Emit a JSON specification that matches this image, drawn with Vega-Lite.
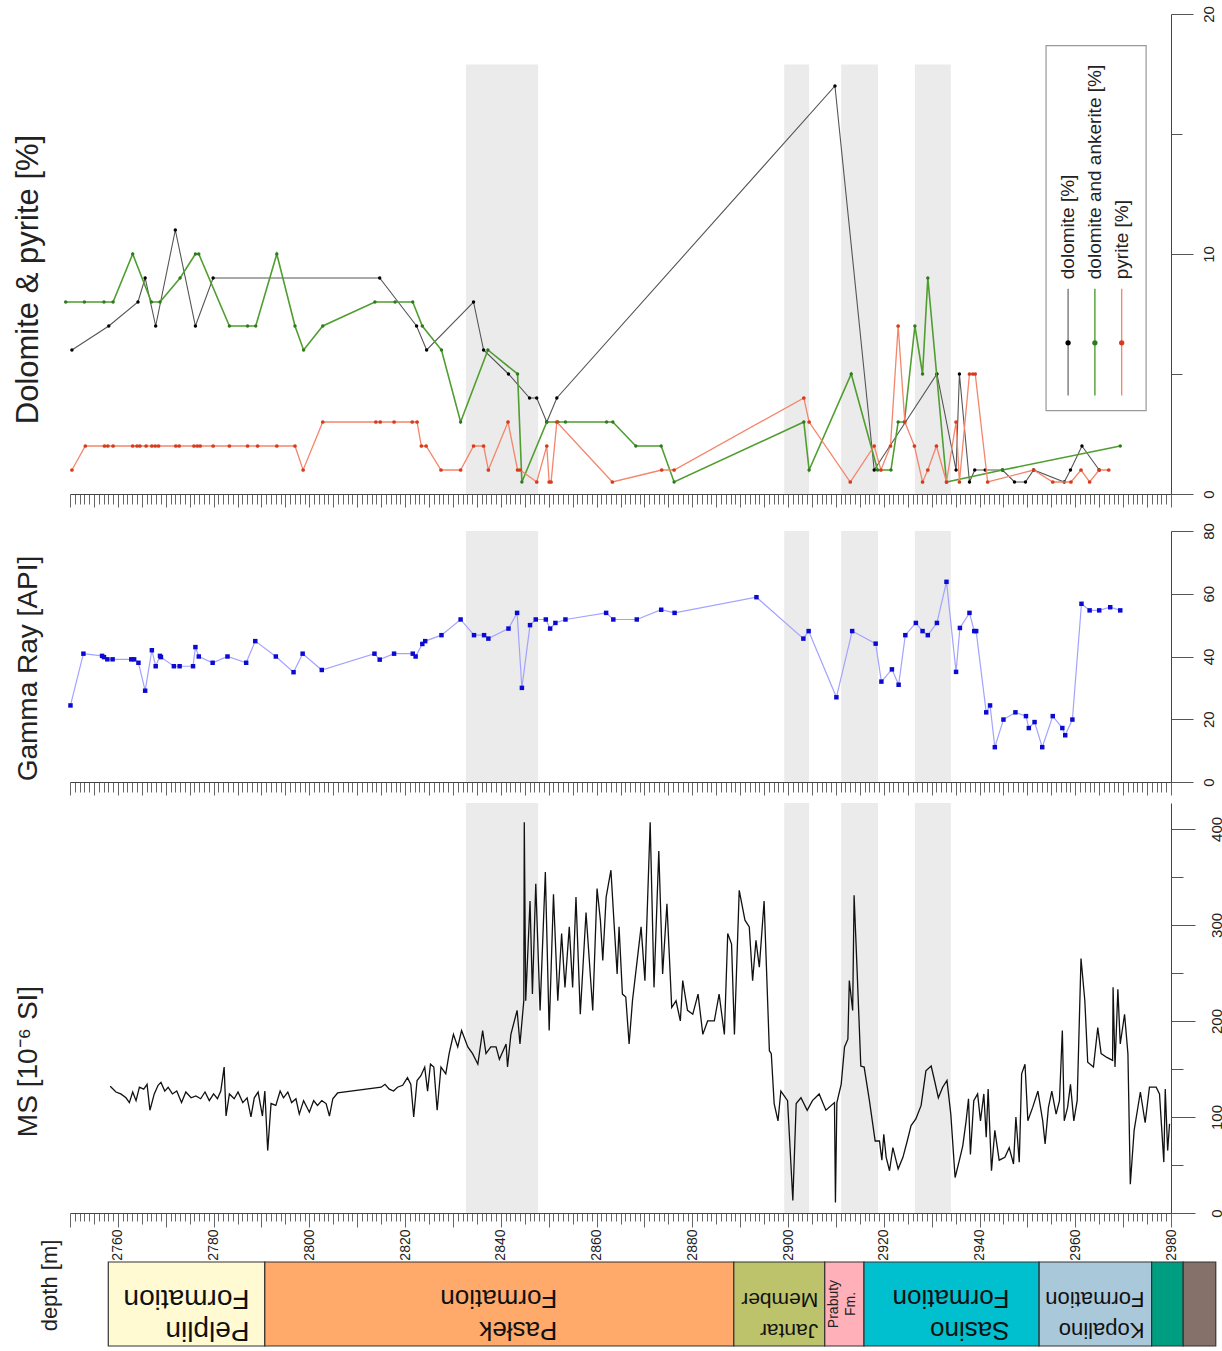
{
  "$schema": "https://vega.github.io/schema/vega-lite/v6.json",
  "background": "white",
  "padding": {"left": 12, "top": 5, "right": 0, "bottom": 4},
  "config": {
    "font": "Liberation Sans",
    "view": {"stroke": null},
    "axis": {"grid": false, "domainColor": "#444", "tickColor": "#555", "labelColor": "#222", "titleColor": "#222", "titleFontWeight": "normal", "labelFont": "Liberation Sans", "titleFont": "Liberation Sans"}
  },
  "datasets": {
    "bands": [
      {"from": 2832.7, "to": 2847.8},
      {"from": 2899.2, "to": 2904.4},
      {"from": 2911.1, "to": 2918.8},
      {"from": 2926.5, "to": 2934.0}
    ],
    "dol": [
      {"d": 2750.4, "v": 6}, {"d": 2758.1, "v": 7}, {"d": 2764.2, "v": 8}, {"d": 2765.7, "v": 9}, {"d": 2767.9, "v": 7},
      {"d": 2772.0, "v": 11}, {"d": 2776.2, "v": 7}, {"d": 2779.9, "v": 9}, {"d": 2814.7, "v": 9}, {"d": 2822.4, "v": 7},
      {"d": 2824.5, "v": 6}, {"d": 2834.3, "v": 8}, {"d": 2836.4, "v": 6}, {"d": 2841.6, "v": 5}, {"d": 2846.0, "v": 4},
      {"d": 2847.5, "v": 4}, {"d": 2849.6, "v": 3}, {"d": 2851.7, "v": 4}, {"d": 2909.8, "v": 17}, {"d": 2918.0, "v": 1},
      {"d": 2931.1, "v": 5}, {"d": 2935.1, "v": 1}, {"d": 2935.8, "v": 5}, {"d": 2937.9, "v": 0.5}, {"d": 2939.0, "v": 1},
      {"d": 2941.2, "v": 1}, {"d": 2944.8, "v": 1}, {"d": 2947.3, "v": 0.5}, {"d": 2949.6, "v": 0.5}, {"d": 2951.3, "v": 1},
      {"d": 2957.7, "v": 0.5}, {"d": 2959.0, "v": 1}, {"d": 2961.4, "v": 2}, {"d": 2965.0, "v": 1}
    ],
    "dolank": [
      {"d": 2749.1, "v": 8}, {"d": 2753.0, "v": 8}, {"d": 2757.1, "v": 8}, {"d": 2759.0, "v": 8}, {"d": 2763.1, "v": 10},
      {"d": 2767.0, "v": 8}, {"d": 2768.8, "v": 8}, {"d": 2773.0, "v": 9}, {"d": 2776.2, "v": 10}, {"d": 2776.9, "v": 10},
      {"d": 2783.3, "v": 7}, {"d": 2787.1, "v": 7}, {"d": 2788.8, "v": 7}, {"d": 2793.2, "v": 10}, {"d": 2797.0, "v": 7},
      {"d": 2798.8, "v": 6}, {"d": 2802.8, "v": 7}, {"d": 2813.7, "v": 8}, {"d": 2817.9, "v": 8}, {"d": 2821.6, "v": 8},
      {"d": 2823.6, "v": 7}, {"d": 2827.6, "v": 6}, {"d": 2831.6, "v": 3}, {"d": 2837.3, "v": 6}, {"d": 2843.5, "v": 5},
      {"d": 2844.4, "v": 0.5}, {"d": 2849.6, "v": 3}, {"d": 2851.9, "v": 3}, {"d": 2853.5, "v": 3}, {"d": 2862.1, "v": 3},
      {"d": 2863.4, "v": 3}, {"d": 2868.2, "v": 2}, {"d": 2873.5, "v": 2}, {"d": 2876.2, "v": 0.5}, {"d": 2903.3, "v": 3},
      {"d": 2904.4, "v": 1}, {"d": 2913.2, "v": 5}, {"d": 2918.7, "v": 1}, {"d": 2921.5, "v": 1}, {"d": 2923.0, "v": 3},
      {"d": 2924.3, "v": 3}, {"d": 2926.5, "v": 7}, {"d": 2928.1, "v": 5}, {"d": 2929.2, "v": 9}, {"d": 2933.1, "v": 0.5},
      {"d": 2944.8, "v": 1}, {"d": 2969.4, "v": 2}
    ],
    "pyr": [
      {"d": 2750.4, "v": 1}, {"d": 2753.2, "v": 2}, {"d": 2757.2, "v": 2}, {"d": 2757.9, "v": 2}, {"d": 2759.0, "v": 2},
      {"d": 2763.1, "v": 2}, {"d": 2764.0, "v": 2}, {"d": 2764.6, "v": 2}, {"d": 2765.9, "v": 2}, {"d": 2767.1, "v": 2},
      {"d": 2767.8, "v": 2}, {"d": 2768.5, "v": 2}, {"d": 2772.1, "v": 2}, {"d": 2772.8, "v": 2}, {"d": 2775.9, "v": 2},
      {"d": 2776.6, "v": 2}, {"d": 2777.2, "v": 2}, {"d": 2779.9, "v": 2}, {"d": 2783.3, "v": 2}, {"d": 2787.1, "v": 2},
      {"d": 2789.2, "v": 2}, {"d": 2793.2, "v": 2}, {"d": 2797.0, "v": 2}, {"d": 2798.7, "v": 1}, {"d": 2802.8, "v": 3},
      {"d": 2813.9, "v": 3}, {"d": 2814.8, "v": 3}, {"d": 2817.7, "v": 3}, {"d": 2821.5, "v": 3}, {"d": 2822.5, "v": 3},
      {"d": 2823.4, "v": 2}, {"d": 2824.4, "v": 2}, {"d": 2827.5, "v": 1}, {"d": 2831.6, "v": 1}, {"d": 2834.3, "v": 2},
      {"d": 2836.4, "v": 2}, {"d": 2837.4, "v": 1}, {"d": 2841.5, "v": 3}, {"d": 2843.5, "v": 1}, {"d": 2844.0, "v": 1},
      {"d": 2847.5, "v": 0.5}, {"d": 2849.6, "v": 2}, {"d": 2850.1, "v": 0.5}, {"d": 2850.5, "v": 0.5}, {"d": 2851.7, "v": 3},
      {"d": 2863.3, "v": 0.5}, {"d": 2873.6, "v": 1}, {"d": 2876.2, "v": 1}, {"d": 2903.3, "v": 4}, {"d": 2904.4, "v": 3},
      {"d": 2913.0, "v": 0.5}, {"d": 2918.0, "v": 2}, {"d": 2919.4, "v": 1}, {"d": 2921.4, "v": 2}, {"d": 2923.0, "v": 7},
      {"d": 2924.4, "v": 3}, {"d": 2926.4, "v": 2}, {"d": 2928.1, "v": 0.5}, {"d": 2929.2, "v": 1}, {"d": 2931.0, "v": 2},
      {"d": 2933.1, "v": 0.5}, {"d": 2935.1, "v": 3}, {"d": 2935.8, "v": 0.5}, {"d": 2937.9, "v": 5}, {"d": 2938.6, "v": 5},
      {"d": 2939.1, "v": 5}, {"d": 2941.7, "v": 0.5}, {"d": 2951.3, "v": 1}, {"d": 2955.3, "v": 0.5}, {"d": 2959.1, "v": 0.5},
      {"d": 2961.2, "v": 1}, {"d": 2963.0, "v": 0.5}, {"d": 2965.0, "v": 1}, {"d": 2967.0, "v": 1}
    ],
    "gr": [
      {"d": 2750.1, "v": 24.4}, {"d": 2752.8, "v": 40.9}, {"d": 2756.7, "v": 40.2}, {"d": 2757.1, "v": 39.8}, {"d": 2757.8, "v": 39.1},
      {"d": 2758.9, "v": 39.1}, {"d": 2762.8, "v": 39.1}, {"d": 2763.4, "v": 39.1}, {"d": 2764.3, "v": 38.0}, {"d": 2765.7, "v": 29.1},
      {"d": 2767.1, "v": 42.0}, {"d": 2767.9, "v": 36.9}, {"d": 2768.8, "v": 40.2}, {"d": 2769.0, "v": 39.8}, {"d": 2771.7, "v": 36.9},
      {"d": 2772.9, "v": 36.9}, {"d": 2775.7, "v": 36.9}, {"d": 2776.2, "v": 43.0}, {"d": 2776.9, "v": 40.0}, {"d": 2779.8, "v": 38.0},
      {"d": 2782.9, "v": 40.0}, {"d": 2786.8, "v": 38.0}, {"d": 2788.7, "v": 44.9}, {"d": 2793.0, "v": 40.0}, {"d": 2796.7, "v": 35.0},
      {"d": 2798.6, "v": 40.9}, {"d": 2802.6, "v": 35.7}, {"d": 2813.6, "v": 40.9}, {"d": 2814.7, "v": 39.0}, {"d": 2817.7, "v": 40.9},
      {"d": 2821.6, "v": 40.9}, {"d": 2822.2, "v": 40.0}, {"d": 2823.6, "v": 44.0}, {"d": 2824.2, "v": 44.9}, {"d": 2827.6, "v": 46.8},
      {"d": 2831.6, "v": 51.8}, {"d": 2834.4, "v": 46.8}, {"d": 2836.5, "v": 46.8}, {"d": 2837.4, "v": 45.7}, {"d": 2841.6, "v": 48.9},
      {"d": 2843.4, "v": 53.9}, {"d": 2844.4, "v": 30.0}, {"d": 2846.1, "v": 50.0}, {"d": 2847.3, "v": 51.8}, {"d": 2849.4, "v": 51.8},
      {"d": 2850.3, "v": 48.9}, {"d": 2851.4, "v": 50.7}, {"d": 2853.5, "v": 51.8}, {"d": 2862.0, "v": 53.9}, {"d": 2863.5, "v": 51.8},
      {"d": 2868.4, "v": 51.8}, {"d": 2873.5, "v": 54.9}, {"d": 2876.3, "v": 53.9}, {"d": 2893.4, "v": 58.9}, {"d": 2903.2, "v": 45.7},
      {"d": 2904.3, "v": 48.1}, {"d": 2910.1, "v": 27.0}, {"d": 2913.4, "v": 48.1}, {"d": 2918.3, "v": 44.1}, {"d": 2919.5, "v": 32.0},
      {"d": 2921.7, "v": 35.9}, {"d": 2923.1, "v": 31.0}, {"d": 2924.5, "v": 46.8}, {"d": 2926.7, "v": 50.7}, {"d": 2928.1, "v": 48.1},
      {"d": 2929.2, "v": 46.8}, {"d": 2931.1, "v": 50.7}, {"d": 2933.1, "v": 63.8}, {"d": 2935.1, "v": 35.1}, {"d": 2935.9, "v": 49.1},
      {"d": 2937.9, "v": 53.9}, {"d": 2938.9, "v": 48.1}, {"d": 2939.3, "v": 48.1}, {"d": 2941.4, "v": 22.2}, {"d": 2942.2, "v": 24.4},
      {"d": 2943.2, "v": 11.1}, {"d": 2945.0, "v": 19.9}, {"d": 2947.5, "v": 22.2}, {"d": 2949.7, "v": 21.0}, {"d": 2950.3, "v": 17.2},
      {"d": 2951.5, "v": 19.1}, {"d": 2953.1, "v": 11.1}, {"d": 2955.3, "v": 21.0}, {"d": 2957.3, "v": 17.2}, {"d": 2957.9, "v": 14.9},
      {"d": 2959.4, "v": 19.9}, {"d": 2961.3, "v": 56.8}, {"d": 2963.0, "v": 54.7}, {"d": 2965.0, "v": 54.7}, {"d": 2967.3, "v": 55.7},
      {"d": 2969.4, "v": 54.7}
    ],
    "ms": [
      {"d": 2758.4, "v": 132}, {"d": 2759.6, "v": 126}, {"d": 2760.6, "v": 124}, {"d": 2761.7, "v": 120}, {"d": 2762.4, "v": 115},
      {"d": 2763.1, "v": 126}, {"d": 2763.8, "v": 117}, {"d": 2764.5, "v": 131}, {"d": 2765.4, "v": 129}, {"d": 2766.1, "v": 134},
      {"d": 2766.7, "v": 107}, {"d": 2767.6, "v": 124}, {"d": 2768.4, "v": 133}, {"d": 2769.0, "v": 136}, {"d": 2769.8, "v": 127},
      {"d": 2770.5, "v": 131}, {"d": 2771.4, "v": 124}, {"d": 2772.3, "v": 127}, {"d": 2773.3, "v": 115}, {"d": 2774.2, "v": 126},
      {"d": 2775.3, "v": 120}, {"d": 2776.3, "v": 122}, {"d": 2777.3, "v": 119}, {"d": 2778.2, "v": 126}, {"d": 2779.1, "v": 117},
      {"d": 2780.0, "v": 124}, {"d": 2780.8, "v": 119}, {"d": 2781.5, "v": 127}, {"d": 2782.2, "v": 152}, {"d": 2782.6, "v": 101},
      {"d": 2783.3, "v": 124}, {"d": 2784.3, "v": 119}, {"d": 2785.1, "v": 126}, {"d": 2786.1, "v": 115}, {"d": 2787.0, "v": 120},
      {"d": 2787.8, "v": 100}, {"d": 2788.5, "v": 120}, {"d": 2789.3, "v": 126}, {"d": 2790.2, "v": 101}, {"d": 2790.7, "v": 127},
      {"d": 2791.3, "v": 65}, {"d": 2792.0, "v": 114}, {"d": 2793.0, "v": 112}, {"d": 2793.9, "v": 127}, {"d": 2794.6, "v": 120},
      {"d": 2795.5, "v": 126}, {"d": 2796.3, "v": 115}, {"d": 2797.2, "v": 119}, {"d": 2797.9, "v": 103}, {"d": 2798.8, "v": 117},
      {"d": 2800.0, "v": 105}, {"d": 2800.9, "v": 117}, {"d": 2801.7, "v": 112}, {"d": 2802.6, "v": 117}, {"d": 2803.5, "v": 114},
      {"d": 2804.2, "v": 101}, {"d": 2804.9, "v": 119}, {"d": 2805.9, "v": 125}, {"d": 2815.0, "v": 131}, {"d": 2815.8, "v": 134},
      {"d": 2816.7, "v": 129}, {"d": 2817.6, "v": 127}, {"d": 2818.4, "v": 131}, {"d": 2819.5, "v": 133}, {"d": 2820.5, "v": 141},
      {"d": 2821.2, "v": 134}, {"d": 2821.8, "v": 100}, {"d": 2822.5, "v": 138}, {"d": 2823.3, "v": 143}, {"d": 2824.1, "v": 152},
      {"d": 2824.7, "v": 127}, {"d": 2825.3, "v": 155}, {"d": 2826.0, "v": 152}, {"d": 2826.7, "v": 107}, {"d": 2827.5, "v": 152},
      {"d": 2828.5, "v": 145}, {"d": 2829.2, "v": 166}, {"d": 2830.1, "v": 186}, {"d": 2831.0, "v": 173}, {"d": 2831.8, "v": 190},
      {"d": 2833.1, "v": 173}, {"d": 2834.1, "v": 166}, {"d": 2835.2, "v": 155}, {"d": 2836.2, "v": 190}, {"d": 2836.9, "v": 166},
      {"d": 2837.9, "v": 173}, {"d": 2839.0, "v": 173}, {"d": 2839.7, "v": 160}, {"d": 2841.1, "v": 176}, {"d": 2841.4, "v": 152},
      {"d": 2842.1, "v": 186}, {"d": 2843.4, "v": 211}, {"d": 2844.0, "v": 176}, {"d": 2844.8, "v": 221}, {"d": 2844.9, "v": 407},
      {"d": 2845.2, "v": 221}, {"d": 2846.1, "v": 325}, {"d": 2846.6, "v": 228}, {"d": 2847.3, "v": 343}, {"d": 2848.2, "v": 211},
      {"d": 2849.3, "v": 355}, {"d": 2850.1, "v": 190}, {"d": 2851.0, "v": 332}, {"d": 2851.9, "v": 221}, {"d": 2852.7, "v": 291},
      {"d": 2853.4, "v": 235}, {"d": 2854.3, "v": 298}, {"d": 2855.0, "v": 235}, {"d": 2855.7, "v": 329}, {"d": 2856.6, "v": 207},
      {"d": 2857.8, "v": 313}, {"d": 2859.2, "v": 211}, {"d": 2860.1, "v": 338}, {"d": 2860.8, "v": 305}, {"d": 2861.3, "v": 263},
      {"d": 2862.0, "v": 329}, {"d": 2863.0, "v": 357}, {"d": 2863.7, "v": 298}, {"d": 2864.3, "v": 249}, {"d": 2864.7, "v": 298},
      {"d": 2865.4, "v": 228}, {"d": 2866.1, "v": 225}, {"d": 2866.8, "v": 176}, {"d": 2867.5, "v": 221}, {"d": 2868.6, "v": 268},
      {"d": 2869.3, "v": 298}, {"d": 2870.1, "v": 242}, {"d": 2871.2, "v": 407}, {"d": 2872.0, "v": 235}, {"d": 2873.0, "v": 377},
      {"d": 2873.8, "v": 249}, {"d": 2874.7, "v": 322}, {"d": 2875.7, "v": 214}, {"d": 2876.6, "v": 221}, {"d": 2877.5, "v": 200},
      {"d": 2878.0, "v": 242}, {"d": 2879.0, "v": 211}, {"d": 2880.1, "v": 207}, {"d": 2881.2, "v": 228}, {"d": 2882.2, "v": 186},
      {"d": 2883.2, "v": 200}, {"d": 2884.6, "v": 200}, {"d": 2885.6, "v": 228}, {"d": 2886.7, "v": 186}, {"d": 2887.4, "v": 291},
      {"d": 2888.2, "v": 280}, {"d": 2888.8, "v": 186}, {"d": 2889.8, "v": 336}, {"d": 2891.0, "v": 305}, {"d": 2891.9, "v": 298},
      {"d": 2892.6, "v": 242}, {"d": 2893.3, "v": 284}, {"d": 2894.0, "v": 256}, {"d": 2895.0, "v": 325}, {"d": 2896.1, "v": 169},
      {"d": 2896.5, "v": 166}, {"d": 2897.1, "v": 114}, {"d": 2897.9, "v": 96}, {"d": 2898.5, "v": 127}, {"d": 2899.9, "v": 117},
      {"d": 2901.0, "v": 13}, {"d": 2901.7, "v": 114}, {"d": 2902.7, "v": 120}, {"d": 2904.0, "v": 107}, {"d": 2905.1, "v": 117},
      {"d": 2906.5, "v": 124}, {"d": 2907.9, "v": 107}, {"d": 2909.7, "v": 115}, {"d": 2909.9, "v": 11}, {"d": 2910.2, "v": 115},
      {"d": 2911.1, "v": 134}, {"d": 2911.8, "v": 173}, {"d": 2912.5, "v": 181}, {"d": 2912.8, "v": 242}, {"d": 2913.5, "v": 211},
      {"d": 2913.8, "v": 331}, {"d": 2914.4, "v": 256}, {"d": 2915.2, "v": 153}, {"d": 2915.9, "v": 152}, {"d": 2917.0, "v": 117},
      {"d": 2918.2, "v": 75}, {"d": 2919.1, "v": 75}, {"d": 2919.6, "v": 55}, {"d": 2920.0, "v": 82}, {"d": 2920.5, "v": 58},
      {"d": 2921.2, "v": 44}, {"d": 2921.9, "v": 68}, {"d": 2923.0, "v": 46}, {"d": 2924.0, "v": 58}, {"d": 2924.9, "v": 75},
      {"d": 2925.7, "v": 91}, {"d": 2926.7, "v": 98}, {"d": 2927.8, "v": 112}, {"d": 2928.8, "v": 148}, {"d": 2929.9, "v": 153},
      {"d": 2930.6, "v": 138}, {"d": 2931.4, "v": 120}, {"d": 2932.3, "v": 131}, {"d": 2933.2, "v": 138}, {"d": 2934.0, "v": 103},
      {"d": 2934.9, "v": 37}, {"d": 2935.8, "v": 55}, {"d": 2936.5, "v": 70}, {"d": 2937.2, "v": 96}, {"d": 2937.7, "v": 119},
      {"d": 2938.1, "v": 61}, {"d": 2938.8, "v": 117}, {"d": 2939.6, "v": 124}, {"d": 2940.2, "v": 96}, {"d": 2940.9, "v": 124},
      {"d": 2941.4, "v": 79}, {"d": 2941.8, "v": 129}, {"d": 2942.5, "v": 44}, {"d": 2943.2, "v": 86}, {"d": 2944.1, "v": 55},
      {"d": 2945.3, "v": 58}, {"d": 2946.2, "v": 68}, {"d": 2947.1, "v": 51}, {"d": 2947.6, "v": 100}, {"d": 2948.3, "v": 53},
      {"d": 2948.8, "v": 145}, {"d": 2949.5, "v": 155}, {"d": 2950.1, "v": 96}, {"d": 2951.1, "v": 110}, {"d": 2952.2, "v": 127},
      {"d": 2953.2, "v": 96}, {"d": 2953.7, "v": 72}, {"d": 2954.4, "v": 110}, {"d": 2955.1, "v": 127}, {"d": 2956.0, "v": 103},
      {"d": 2956.7, "v": 117}, {"d": 2957.3, "v": 190}, {"d": 2957.7, "v": 96}, {"d": 2958.4, "v": 110}, {"d": 2959.0, "v": 134},
      {"d": 2959.7, "v": 96}, {"d": 2960.4, "v": 117}, {"d": 2961.2, "v": 265}, {"d": 2962.0, "v": 221}, {"d": 2962.6, "v": 157},
      {"d": 2963.8, "v": 152}, {"d": 2964.7, "v": 193}, {"d": 2965.4, "v": 166}, {"d": 2966.6, "v": 162}, {"d": 2967.8, "v": 159},
      {"d": 2967.9, "v": 235}, {"d": 2968.3, "v": 152}, {"d": 2968.9, "v": 233}, {"d": 2969.4, "v": 176}, {"d": 2970.3, "v": 207},
      {"d": 2971.0, "v": 166}, {"d": 2971.5, "v": 30}, {"d": 2972.3, "v": 86}, {"d": 2973.6, "v": 126}, {"d": 2974.6, "v": 94},
      {"d": 2975.5, "v": 131}, {"d": 2976.9, "v": 131}, {"d": 2977.6, "v": 124}, {"d": 2978.5, "v": 53}, {"d": 2978.8, "v": 129},
      {"d": 2979.3, "v": 65}, {"d": 2979.7, "v": 93}
    ],
    "units": [
      {"unit": "Pelplin", "label": "Pelplin|Formation", "top": 2758.0, "base": 2790.7},
      {"unit": "Pasłek", "label": "Pasłek|Formation", "top": 2790.7, "base": 2888.7},
      {"unit": "Jantar", "label": "Jantar|Member", "top": 2888.7, "base": 2907.7},
      {"unit": "Prabuty", "label": "Prabuty|Fm.", "top": 2907.7, "base": 2915.9},
      {"unit": "Sasino", "label": "Sasino|Formation", "top": 2915.9, "base": 2952.5},
      {"unit": "Kopalino", "label": "Kopalino|Formation", "top": 2952.5, "base": 2976.0},
      {"unit": "unit7", "label": "", "top": 2976.0, "base": 2982.6},
      {"unit": "unit8", "label": "", "top": 2982.6, "base": 2989.4}
    ]
  },
  "bounds": "flush",
  "spacing": 21,
  "resolve": {"scale": {"x": "independent", "y": "independent"}},
  "vconcat": [
    {
      "width": 1101,
      "height": 480,
      "layer": [
        {
          "data": {"name": "bands"},
          "mark": {"type": "rect", "color": "#ebebeb"},
          "encoding": {
            "x": {"field": "from", "type": "quantitative", "scale": {"domain": [2750, 2980], "nice": false}},
            "x2": {"field": "to"},
            "y": {"datum": 17.9, "type": "quantitative", "scale": {"domain": [0, 20], "nice": false}},
            "y2": {"datum": 0}
          }
        },
        {
          "data": {"name": "dol"},
          "mark": {"type": "line", "color": "#555", "strokeWidth": 1.1},
          "encoding": {
            "x": {"field": "d", "type": "quantitative", "scale": {"domain": [2750, 2980], "nice": false},
              "axis": {"orient": "bottom", "title": null, "labels": false, "tickCount": 230, "format": "d", "domainColor": "#444", "tickColor": "#666",
                "tickSize": {"condition": {"test": "datum.value % 5 === 0", "value": 13}, "value": 10}}},
            "y": {"field": "v", "type": "quantitative", "scale": {"domain": [0, 20], "nice": false},
              "axis": {"orient": "right", "values": [0, 5, 10, 15, 20], "labelExpr": "datum.value % 10 === 0 ? datum.label : ''",
                "tickSize": {"condition": {"test": "datum.value % 10 === 0", "value": 22}, "value": 11},
                "labelAngle": 270, "labelAlign": "center", "labelBaseline": "top", "labelPadding": 8, "labelFontSize": 15,
                "title": "Dolomite & pyrite [%]", "titleAngle": 270, "titleAlign": "center", "titleBaseline": "middle",
                "titleX": -1143, "titleY": 265, "titleFontSize": 31}}
          }
        },
        {
          "data": {"name": "dol"},
          "mark": {"type": "point", "filled": true, "color": "#000", "size": 12, "opacity": 1},
          "encoding": {
            "x": {"field": "d", "type": "quantitative"},
            "y": {"field": "v", "type": "quantitative"}
          }
        },
        {
          "data": {"name": "dolank"},
          "mark": {"type": "line", "color": "#4f9e2f", "strokeWidth": 1.6},
          "encoding": {
            "x": {"field": "d", "type": "quantitative"},
            "y": {"field": "v", "type": "quantitative"}
          }
        },
        {
          "data": {"name": "dolank"},
          "mark": {"type": "point", "filled": true, "color": "#2f7a1f", "size": 12, "opacity": 1},
          "encoding": {
            "x": {"field": "d", "type": "quantitative"},
            "y": {"field": "v", "type": "quantitative"}
          }
        },
        {
          "data": {"name": "pyr"},
          "mark": {"type": "line", "color": "#f3866c", "strokeWidth": 1.3},
          "encoding": {
            "x": {"field": "d", "type": "quantitative"},
            "y": {"field": "v", "type": "quantitative"}
          }
        },
        {
          "data": {"name": "pyr"},
          "mark": {"type": "point", "filled": true, "color": "#d83a1c", "size": 14, "opacity": 1},
          "encoding": {
            "x": {"field": "d", "type": "quantitative"},
            "y": {"field": "v", "type": "quantitative"}
          }
        },
        {
          "data": {"values": [{}]},
          "mark": {"type": "rect", "fill": "white", "stroke": "#999", "strokeWidth": 1.2},
          "encoding": {
            "x": {"datum": 2953.9, "type": "quantitative"},
            "x2": {"datum": 2974.8},
            "y": {"datum": 18.68, "type": "quantitative"},
            "y2": {"datum": 3.47}
          }
        },
        {
          "data": {"values": [{"label": "dolomite [%]"}]},
          "encoding": {"x": {"datum": 2958.5, "type": "quantitative"}},
          "layer": [
            {"mark": {"type": "rule", "color": "#555", "strokeWidth": 1.1}, "encoding": {"y": {"datum": 4.1, "type": "quantitative"}, "y2": {"datum": 8.55}}},
            {"mark": {"type": "point", "filled": true, "color": "#000", "size": 28, "opacity": 1}, "encoding": {"y": {"datum": 6.3, "type": "quantitative"}}},
            {"mark": {"type": "text", "angle": 270, "align": "left", "baseline": "middle", "fontSize": 19, "color": "#222"}, "encoding": {"y": {"datum": 8.95, "type": "quantitative"}, "text": {"field": "label"}}}
          ]
        },
        {
          "data": {"values": [{"label": "dolomite and ankerite [%]"}]},
          "encoding": {"x": {"datum": 2964.1, "type": "quantitative"}},
          "layer": [
            {"mark": {"type": "rule", "color": "#4f9e2f", "strokeWidth": 1.4}, "encoding": {"y": {"datum": 4.1, "type": "quantitative"}, "y2": {"datum": 8.55}}},
            {"mark": {"type": "point", "filled": true, "color": "#2f7a1f", "size": 28, "opacity": 1}, "encoding": {"y": {"datum": 6.3, "type": "quantitative"}}},
            {"mark": {"type": "text", "angle": 270, "align": "left", "baseline": "middle", "fontSize": 19, "color": "#222"}, "encoding": {"y": {"datum": 8.95, "type": "quantitative"}, "text": {"field": "label"}}}
          ]
        },
        {
          "data": {"values": [{"label": "pyrite [%]"}]},
          "encoding": {"x": {"datum": 2969.7, "type": "quantitative"}},
          "layer": [
            {"mark": {"type": "rule", "color": "#f3866c", "strokeWidth": 1.3}, "encoding": {"y": {"datum": 4.1, "type": "quantitative"}, "y2": {"datum": 8.55}}},
            {"mark": {"type": "point", "filled": true, "color": "#d83a1c", "size": 28, "opacity": 1}, "encoding": {"y": {"datum": 6.3, "type": "quantitative"}}},
            {"mark": {"type": "text", "angle": 270, "align": "left", "baseline": "middle", "fontSize": 19, "color": "#222"}, "encoding": {"y": {"datum": 8.95, "type": "quantitative"}, "text": {"field": "label"}}}
          ]
        }
      ]
    },
    {
      "width": 1101,
      "height": 267,
      "layer": [
        {
          "data": {"name": "bands"},
          "mark": {"type": "rect", "color": "#ebebeb"},
          "encoding": {
            "x": {"field": "from", "type": "quantitative", "scale": {"domain": [2750, 2980], "nice": false}},
            "x2": {"field": "to"},
            "y": {"datum": 80, "type": "quantitative", "scale": {"domain": [0, 80], "nice": false, "range": [267, 16]}},
            "y2": {"datum": 0}
          }
        },
        {
          "data": {"name": "gr"},
          "mark": {"type": "line", "color": "#a3a3ff", "strokeWidth": 1.2},
          "encoding": {
            "x": {"field": "d", "type": "quantitative", "scale": {"domain": [2750, 2980], "nice": false},
              "axis": {"orient": "bottom", "title": null, "labels": false, "tickCount": 230, "format": "d", "domainColor": "#444", "tickColor": "#666",
                "tickSize": {"condition": {"test": "datum.value % 5 === 0", "value": 13}, "value": 10}}},
            "y": {"field": "v", "type": "quantitative", "scale": {"domain": [0, 80], "nice": false, "range": [267, 16]},
              "axis": {"orient": "right", "values": [0, 10, 20, 30, 40, 50, 60, 70, 80], "labelExpr": "datum.value % 20 === 0 ? datum.label : ''",
                "tickSize": {"condition": {"test": "datum.value % 20 === 0", "value": 22}, "value": 11},
                "labelAngle": 270, "labelAlign": "center", "labelBaseline": "top", "labelPadding": 8, "labelFontSize": 15,
                "title": "Gamma Ray [API]", "titleAngle": 270, "titleAlign": "center", "titleBaseline": "middle",
                "titleX": -1143, "titleY": 153, "titleFontSize": 28}}
          }
        },
        {
          "data": {"name": "gr"},
          "mark": {"type": "square", "filled": true, "color": "#0a0ad2", "size": 20, "opacity": 1},
          "encoding": {
            "x": {"field": "d", "type": "quantitative"},
            "y": {"field": "v", "type": "quantitative"}
          }
        }
      ]
    },
    {
      "width": 1101,
      "height": 410,
      "layer": [
        {
          "data": {"name": "bands"},
          "mark": {"type": "rect", "color": "#ebebeb"},
          "encoding": {
            "x": {"field": "from", "type": "quantitative", "scale": {"domain": [2750, 2980], "nice": false}},
            "x2": {"field": "to"}
          }
        },
        {
          "data": {"name": "ms"},
          "mark": {"type": "line", "color": "#111", "strokeWidth": 1.3},
          "encoding": {
            "x": {"field": "d", "type": "quantitative", "scale": {"domain": [2750, 2980], "nice": false},
              "axis": {"orient": "bottom", "title": "depth [m]", "titleAngle": 270, "titleAlign": "center", "titleBaseline": "middle", "titleX": -21, "titleY": 72, "titleFontSize": 22,
                "tickCount": 230, "format": "d", "labelExpr": "datum.value % 20 === 0 ? datum.label : ''", "labelOverlap": false, "labelFlush": false,
                "labelAngle": 270, "labelAlign": "right", "labelBaseline": "middle", "labelPadding": 2, "labelFontSize": 14,
                "domainColor": "#444", "tickColor": "#666",
                "tickSize": {"condition": [{"test": "datum.value % 10 === 0", "value": 14}, {"test": "datum.value % 5 === 0", "value": 11}], "value": 8}}},
            "y": {"field": "v", "type": "quantitative", "scale": {"domain": [0, 427], "nice": false},
              "axis": {"orient": "right", "values": [0, 50, 100, 150, 200, 250, 300, 350, 400], "labelExpr": "datum.value % 100 === 0 ? datum.label : ''",
                "tickSize": {"condition": {"test": "datum.value % 100 === 0", "value": 24}, "value": 12},
                "labelAngle": 270, "labelAlign": "center", "labelBaseline": "top", "labelPadding": 14, "labelFontSize": 15,
                "title": "MS [10⁻⁶ SI]", "titleAngle": 270, "titleAlign": "center", "titleBaseline": "middle",
                "titleX": -1143, "titleY": 258, "titleFontSize": 28}}
          }
        }
      ]
    },
    {
      "width": 1146,
      "height": 112,
      "data": {"name": "units"},
      "transform": [{"calculate": "(datum.top + datum.base) / 2", "as": "mid"}],
      "layer": [
        {
          "mark": {"type": "rect", "stroke": "#333", "strokeWidth": 1.2},
          "encoding": {
            "x": {"field": "top", "type": "quantitative", "scale": {"domain": [2750, 2989.45], "nice": false}, "axis": null},
            "x2": {"field": "base"},
            "y": {"datum": 1, "type": "quantitative", "scale": {"domain": [0, 1], "range": [112, 28], "nice": false}, "axis": null},
            "y2": {"datum": 0},
            "fill": {"field": "unit", "type": "nominal", "legend": null,
              "scale": {"domain": ["Pelplin", "Pasłek", "Jantar", "Prabuty", "Sasino", "Kopalino", "unit7", "unit8"],
                "range": ["#fffad2", "#ffa96a", "#bdc36b", "#ffb0b8", "#00bfcf", "#a9c8d9", "#009e81", "#86706a"]}}
          }
        },
        {
          "transform": [{"filter": "datum.unit === 'Pelplin'"}],
          "mark": {"type": "text", "angle": 180, "align": "left", "baseline": "middle", "fontSize": 28, "lineHeight": 32, "lineBreak": "|", "color": "#111", "dx": -63},
          "encoding": {
            "x": {"field": "mid", "type": "quantitative", "axis": null},
            "y": {"datum": 0.19, "type": "quantitative", "axis": null},
            "text": {"field": "label"}
          }
        },
        {
          "transform": [{"filter": "datum.unit === 'Pasłek' || datum.unit === 'Sasino'"}],
          "mark": {"type": "text", "angle": 180, "align": "left", "baseline": "middle", "fontSize": 26, "lineHeight": 32, "lineBreak": "|", "color": "#111", "dx": -58},
          "encoding": {
            "x": {"field": "mid", "type": "quantitative", "axis": null},
            "y": {"datum": 0.19, "type": "quantitative", "axis": null},
            "text": {"field": "label"}
          }
        },
        {
          "transform": [{"filter": "datum.unit === 'Kopalino'"}],
          "mark": {"type": "text", "angle": 180, "align": "left", "baseline": "middle", "fontSize": 22, "lineHeight": 31, "lineBreak": "|", "color": "#111", "dx": -49},
          "encoding": {
            "x": {"field": "mid", "type": "quantitative", "axis": null},
            "y": {"datum": 0.19, "type": "quantitative", "axis": null},
            "text": {"field": "label"}
          }
        },
        {
          "transform": [{"filter": "datum.unit === 'Jantar'"}],
          "mark": {"type": "text", "angle": 180, "align": "left", "baseline": "middle", "fontSize": 21, "lineHeight": 31, "lineBreak": "|", "color": "#111", "dx": -39},
          "encoding": {
            "x": {"field": "mid", "type": "quantitative", "axis": null},
            "y": {"datum": 0.19, "type": "quantitative", "axis": null},
            "text": {"field": "label"}
          }
        },
        {
          "transform": [{"filter": "datum.unit === 'Prabuty'"}],
          "mark": {"type": "text", "angle": 270, "align": "center", "baseline": "middle", "fontSize": 14, "lineHeight": 17, "lineBreak": "|", "color": "#222", "dy": -10},
          "encoding": {
            "x": {"field": "mid", "type": "quantitative", "axis": null},
            "y": {"datum": 0.5, "type": "quantitative", "axis": null},
            "text": {"field": "label"}
          }
        }
      ]
    }
  ]
}
